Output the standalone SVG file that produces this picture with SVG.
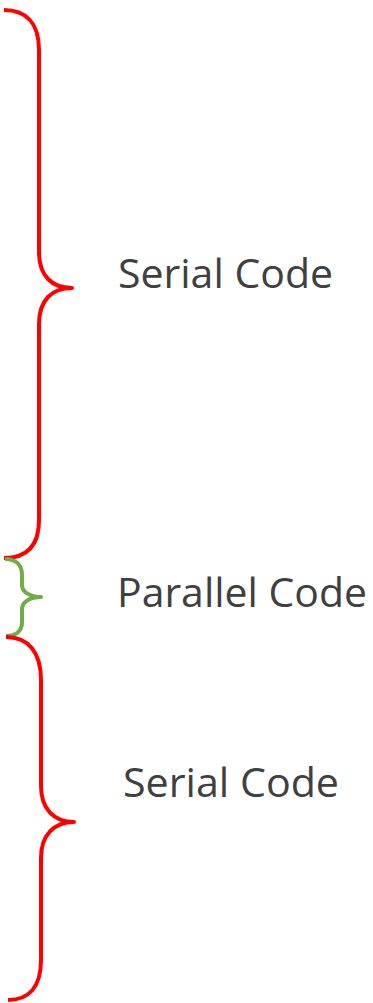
<svg xmlns="http://www.w3.org/2000/svg" width="373" height="1003" viewBox="0 0 373 1003">
<style>
.br{fill:none;stroke-width:4;stroke-linecap:butt;stroke-linejoin:round}
.red{stroke:#FF0000}
.green{stroke:#70AD47}
.lbl{font-family:"Open Sans","Noto Sans",sans-serif;font-size:40px;fill:#404040}
</style>
<rect width="373" height="1003" fill="#FFFFFF"/>
<g id="brace-serial-1">
<path class="br red" d="M4,10 C25,10 39,22 39,50 L39,252 C39,276 52,288 72,288 C52,288 39,300 39,324 L39,520 C39,548 25,558 4,558"/>
<text class="lbl" x="118" y="288" textLength="215" lengthAdjust="spacingAndGlyphs">Serial Code</text>
</g>
<g id="brace-parallel">
<path class="br green" d="M5,559 C16,559 22,565 22,575 L22,585 C22,592 30,597 41,597 C30,597 22,602 22,609 L22,622 C22,631 16,636 6,636"/>
<text class="lbl" x="117" y="607" textLength="250" lengthAdjust="spacingAndGlyphs">Parallel Code</text>
</g>
<g id="brace-serial-2">
<path class="br red" d="M6,637 C28,637 41,652 41,680 L41,786 C41,809 54,822 74,822 C54,822 41,835 41,858 L41,960 C41,988 28,1000 8,1000"/>
<text class="lbl" x="123" y="797" textLength="216" lengthAdjust="spacingAndGlyphs">Serial Code</text>
</g>
<g id="connectors"></g>
</svg>
